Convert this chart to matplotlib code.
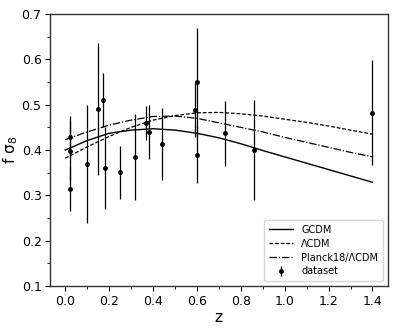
import matplotlib
matplotlib.use("Agg")
import matplotlib.pyplot as plt
from matplotlib.ticker import MultipleLocator

# model curves
z_model = [0.0, 0.1, 0.2, 0.3, 0.4, 0.5, 0.6, 0.7, 0.8, 0.9, 1.0, 1.1, 1.2, 1.3, 1.4]
gcdm = [0.400, 0.421, 0.437, 0.444, 0.447, 0.444, 0.437, 0.427, 0.414, 0.399, 0.385, 0.371, 0.357, 0.343, 0.329]
lcdm = [0.382, 0.407, 0.430, 0.450, 0.466, 0.476, 0.482, 0.483, 0.480, 0.475, 0.468, 0.461, 0.453, 0.444, 0.435]
planck = [0.423, 0.440, 0.455, 0.466, 0.474, 0.475, 0.470, 0.460, 0.450, 0.440, 0.428, 0.417, 0.406, 0.395, 0.385]

# dataset
z_data = [0.02, 0.02, 0.02, 0.10, 0.15, 0.17, 0.18, 0.25, 0.32, 0.37, 0.38, 0.44, 0.59, 0.60, 0.60, 0.73, 0.86, 1.40]
fs8 = [0.428, 0.398, 0.314, 0.370, 0.490, 0.510, 0.360, 0.351, 0.384, 0.460, 0.440, 0.413, 0.488, 0.550, 0.390, 0.437, 0.400, 0.482]
err = [0.0465, 0.065, 0.048, 0.130, 0.145, 0.060, 0.090, 0.058, 0.095, 0.038, 0.060, 0.080, 0.060, 0.120, 0.063, 0.072, 0.110, 0.116]

fig = plt.figure(figsize=(3.99, 3.32), dpi=100)
ax = fig.add_axes([0.125, 0.138, 0.847, 0.82])

ax.plot(z_model, gcdm, color='black', lw=1.0, ls='-', label='GCDM')
ax.plot(z_model, lcdm, color='black', lw=0.9, ls=(0, (3, 1.5)), label='ΛCDM')
ax.plot(z_model, planck, color='black', lw=0.9, ls=(0, (6, 1.5, 1, 1.5)), label='Planck18/ΛCDM')
ax.errorbar(z_data, fs8, yerr=err, fmt='o', color='black', ms=2.5, elinewidth=0.9,
            capsize=0, label='dataset')

ax.set_xlim(-0.07, 1.47)
ax.set_ylim(0.1, 0.7)
ax.xaxis.set_major_locator(MultipleLocator(0.2))
ax.xaxis.set_minor_locator(MultipleLocator(0.1))
ax.yaxis.set_major_locator(MultipleLocator(0.1))
ax.yaxis.set_minor_locator(MultipleLocator(0.05))
ax.tick_params(which='both', direction='out', labelsize=9, top=False, right=False)
ax.tick_params(which='major', length=3.5, width=0.8, pad=2.5)
ax.tick_params(which='minor', length=2, width=0.6)
for s in ax.spines.values():
    s.set_linewidth(1.0)
    s.set_color('#333333')

ax.set_xlabel('z', fontsize=11, labelpad=2)
ax.set_ylabel('f σ$_8$', fontsize=11)
ax.yaxis.set_label_coords(-0.088, 0.5)

ax.legend(loc='lower right', fontsize=7, handlelength=2.5, frameon=True, borderpad=0.5,
          labelspacing=0.4)

fig.savefig('out.png', dpi=100)
